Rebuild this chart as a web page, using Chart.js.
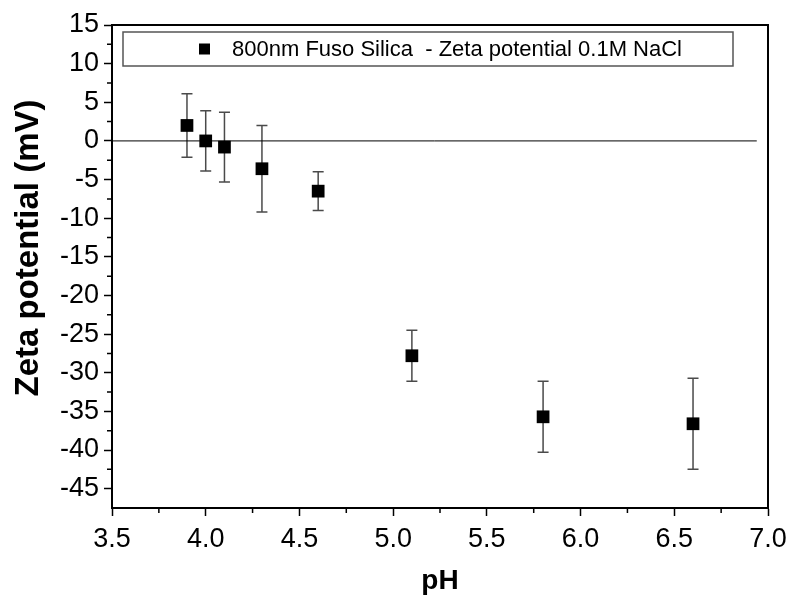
<!DOCTYPE html>
<html>
<head>
<meta charset="utf-8">
<script src="https://cdn.jsdelivr.net/npm/chart.js@4/dist/chart.umd.min.js"></script>
<style>
  html, body { margin: 0; padding: 0; background: #fff; }
  #box { width: 791px; height: 600px; }
</style>
</head>
<body>
<div id="box"><canvas id="zetaChart"></canvas></div>
<script>
// datos
const phValues = [3.9, 4.0, 4.1, 4.3, 4.6, 5.1, 5.8, 6.6]
const zetaValues = [2.0, 0.0, -0.8, -3.6, -6.5, -27.8, -35.7, -36.6]
const zetaErrors = [4.1, 3.9, 4.5, 5.6, 2.5, 3.3, 4.6, 5.9]
const zeroLineX = [3.5, 6.94]
const seriesLabel = '800nm Fuso Silica  - Zeta potential 0.1M NaCl'
const yTitle = 'Zeta potential (mV)'

Chart.defaults.font.family = '"Liberation Sans", Arial, sans-serif'
Chart.defaults.color = '#000'

// barras de error, se dibujan antes que los puntos
const errorBars = {
    id: 'errorBars',
    beforeDatasetsDraw(chart) {
        const {ctx, scales: {x, y}} = chart
        ctx.save()
        ctx.strokeStyle = '#4a4a4a'
        ctx.lineWidth = 1.5
        phValues.forEach((ph, i) => {
            const px = x.getPixelForValue(ph)
            const top = y.getPixelForValue(zetaValues[i] + zetaErrors[i])
            const bot = y.getPixelForValue(zetaValues[i] - zetaErrors[i])
            ctx.beginPath()
            ctx.moveTo(px, top); ctx.lineTo(px, bot)
            ctx.moveTo(px - 5.5, top); ctx.lineTo(px + 5.5, top)
            ctx.moveTo(px - 5.5, bot); ctx.lineTo(px + 5.5, bot)
            ctx.stroke()
        })
        ctx.restore()
    }
}

// marco, ticks menores, titulo Y y leyenda dentro del area
const frameAndLegend = {
    id: 'frameAndLegend',
    afterDraw(chart) {
        const {ctx, chartArea: a, scales: {x, y}} = chart
        ctx.save()
        ctx.strokeStyle = '#000'
        ctx.lineWidth = 2
        ctx.strokeRect(a.left, a.top, a.right - a.left, a.bottom - a.top)

        // ticks menores
        ctx.lineWidth = 1.5
        ctx.beginPath()
        for (let v = 3.75; v < 7; v += 0.5) {
            const px = x.getPixelForValue(v)
            ctx.moveTo(px, a.bottom); ctx.lineTo(px, a.bottom + 5)
        }
        for (let v = -47.5; v < 15; v += 5) {
            const py = y.getPixelForValue(v)
            if (py > a.bottom - 1) continue
            ctx.moveTo(a.left, py); ctx.lineTo(a.left - 5, py)
        }
        ctx.stroke()

        // titulo del eje Y
        ctx.save()
        ctx.translate(29, 248)
        ctx.rotate(-Math.PI / 2)
        ctx.font = 'bold 33px "Liberation Sans", Arial, sans-serif'
        ctx.textAlign = 'center'
        ctx.textBaseline = 'middle'
        ctx.fillStyle = '#000'
        ctx.fillText(yTitle, 0, 0)
        ctx.restore()

        // leyenda
        const lx = a.left + 11, ly = a.top + 7, lw = a.right - a.left - 46, lh = 34
        ctx.fillStyle = '#fff'
        ctx.fillRect(lx, ly, lw, lh)
        ctx.strokeStyle = '#555'
        ctx.lineWidth = 1.5
        ctx.strokeRect(lx, ly, lw, lh)
        ctx.fillStyle = '#000'
        ctx.fillRect(lx + 76, ly + lh / 2 - 5.5, 11, 11)
        ctx.font = '22px "Liberation Sans", Arial, sans-serif'
        ctx.textBaseline = 'middle'
        ctx.textAlign = 'left'
        ctx.fillText(seriesLabel, lx + 109, ly + lh / 2 + 1)
        ctx.restore()
    }
}

const data = {
    datasets: [{
        label: seriesLabel,
        data: phValues.map((ph, i) => ({x: ph, y: zetaValues[i]})),
        pointStyle: 'rect',
        pointRadius: 9,
        pointHoverRadius: 9,
        backgroundColor: '#000',
        borderColor: '#000',
        borderWidth: 0,
        showLine: false,
        order: 1
    }, {
        label: 'zero',
        data: zeroLineX.map(v => ({x: v, y: 0})),
        showLine: true,
        borderColor: '#000',
        borderWidth: 1,
        pointRadius: 0,
        order: 2
    }]
}

const options = {
    responsive: true,
    maintainAspectRatio: false,
    animation: false,
    layout: { padding: { top: 25, right: 23, left: 0, bottom: 0 } },
    plugins: {
        legend: { display: false },
        tooltip: { enabled: false }
    },
    scales: {
        x: {
            type: 'linear',
            min: 3.5,
            max: 7.0,
            afterFit: s => { s.height = 92; s.paddingLeft = 0; s.paddingRight = 0 },
            grid: { drawOnChartArea: false, tickLength: 8, tickWidth: 1.5, tickColor: '#000' },
            border: { color: '#000', width: 2 },
            ticks: { stepSize: 0.5, padding: 7, font: { size: 27 }, callback: v => v.toFixed(1) },
            title: { display: true, text: 'pH', font: { size: 28, weight: 'bold' }, padding: { top: 0, bottom: 2 } }
        },
        y: {
            min: -47.5,
            max: 15,
            afterFit: s => { s.width = 112; s.paddingTop = 0; s.paddingBottom = 0 },
            grid: { drawOnChartArea: false, tickLength: 8, tickWidth: 1.5, tickColor: '#000' },
            border: { color: '#000', width: 2 },
            ticks: { stepSize: 5, includeBounds: false, padding: 5, font: { size: 27 } }
        }
    }
}

new Chart('zetaChart', { type: 'scatter', data, options, plugins: [errorBars, frameAndLegend] })
</script>
</body>
</html>
